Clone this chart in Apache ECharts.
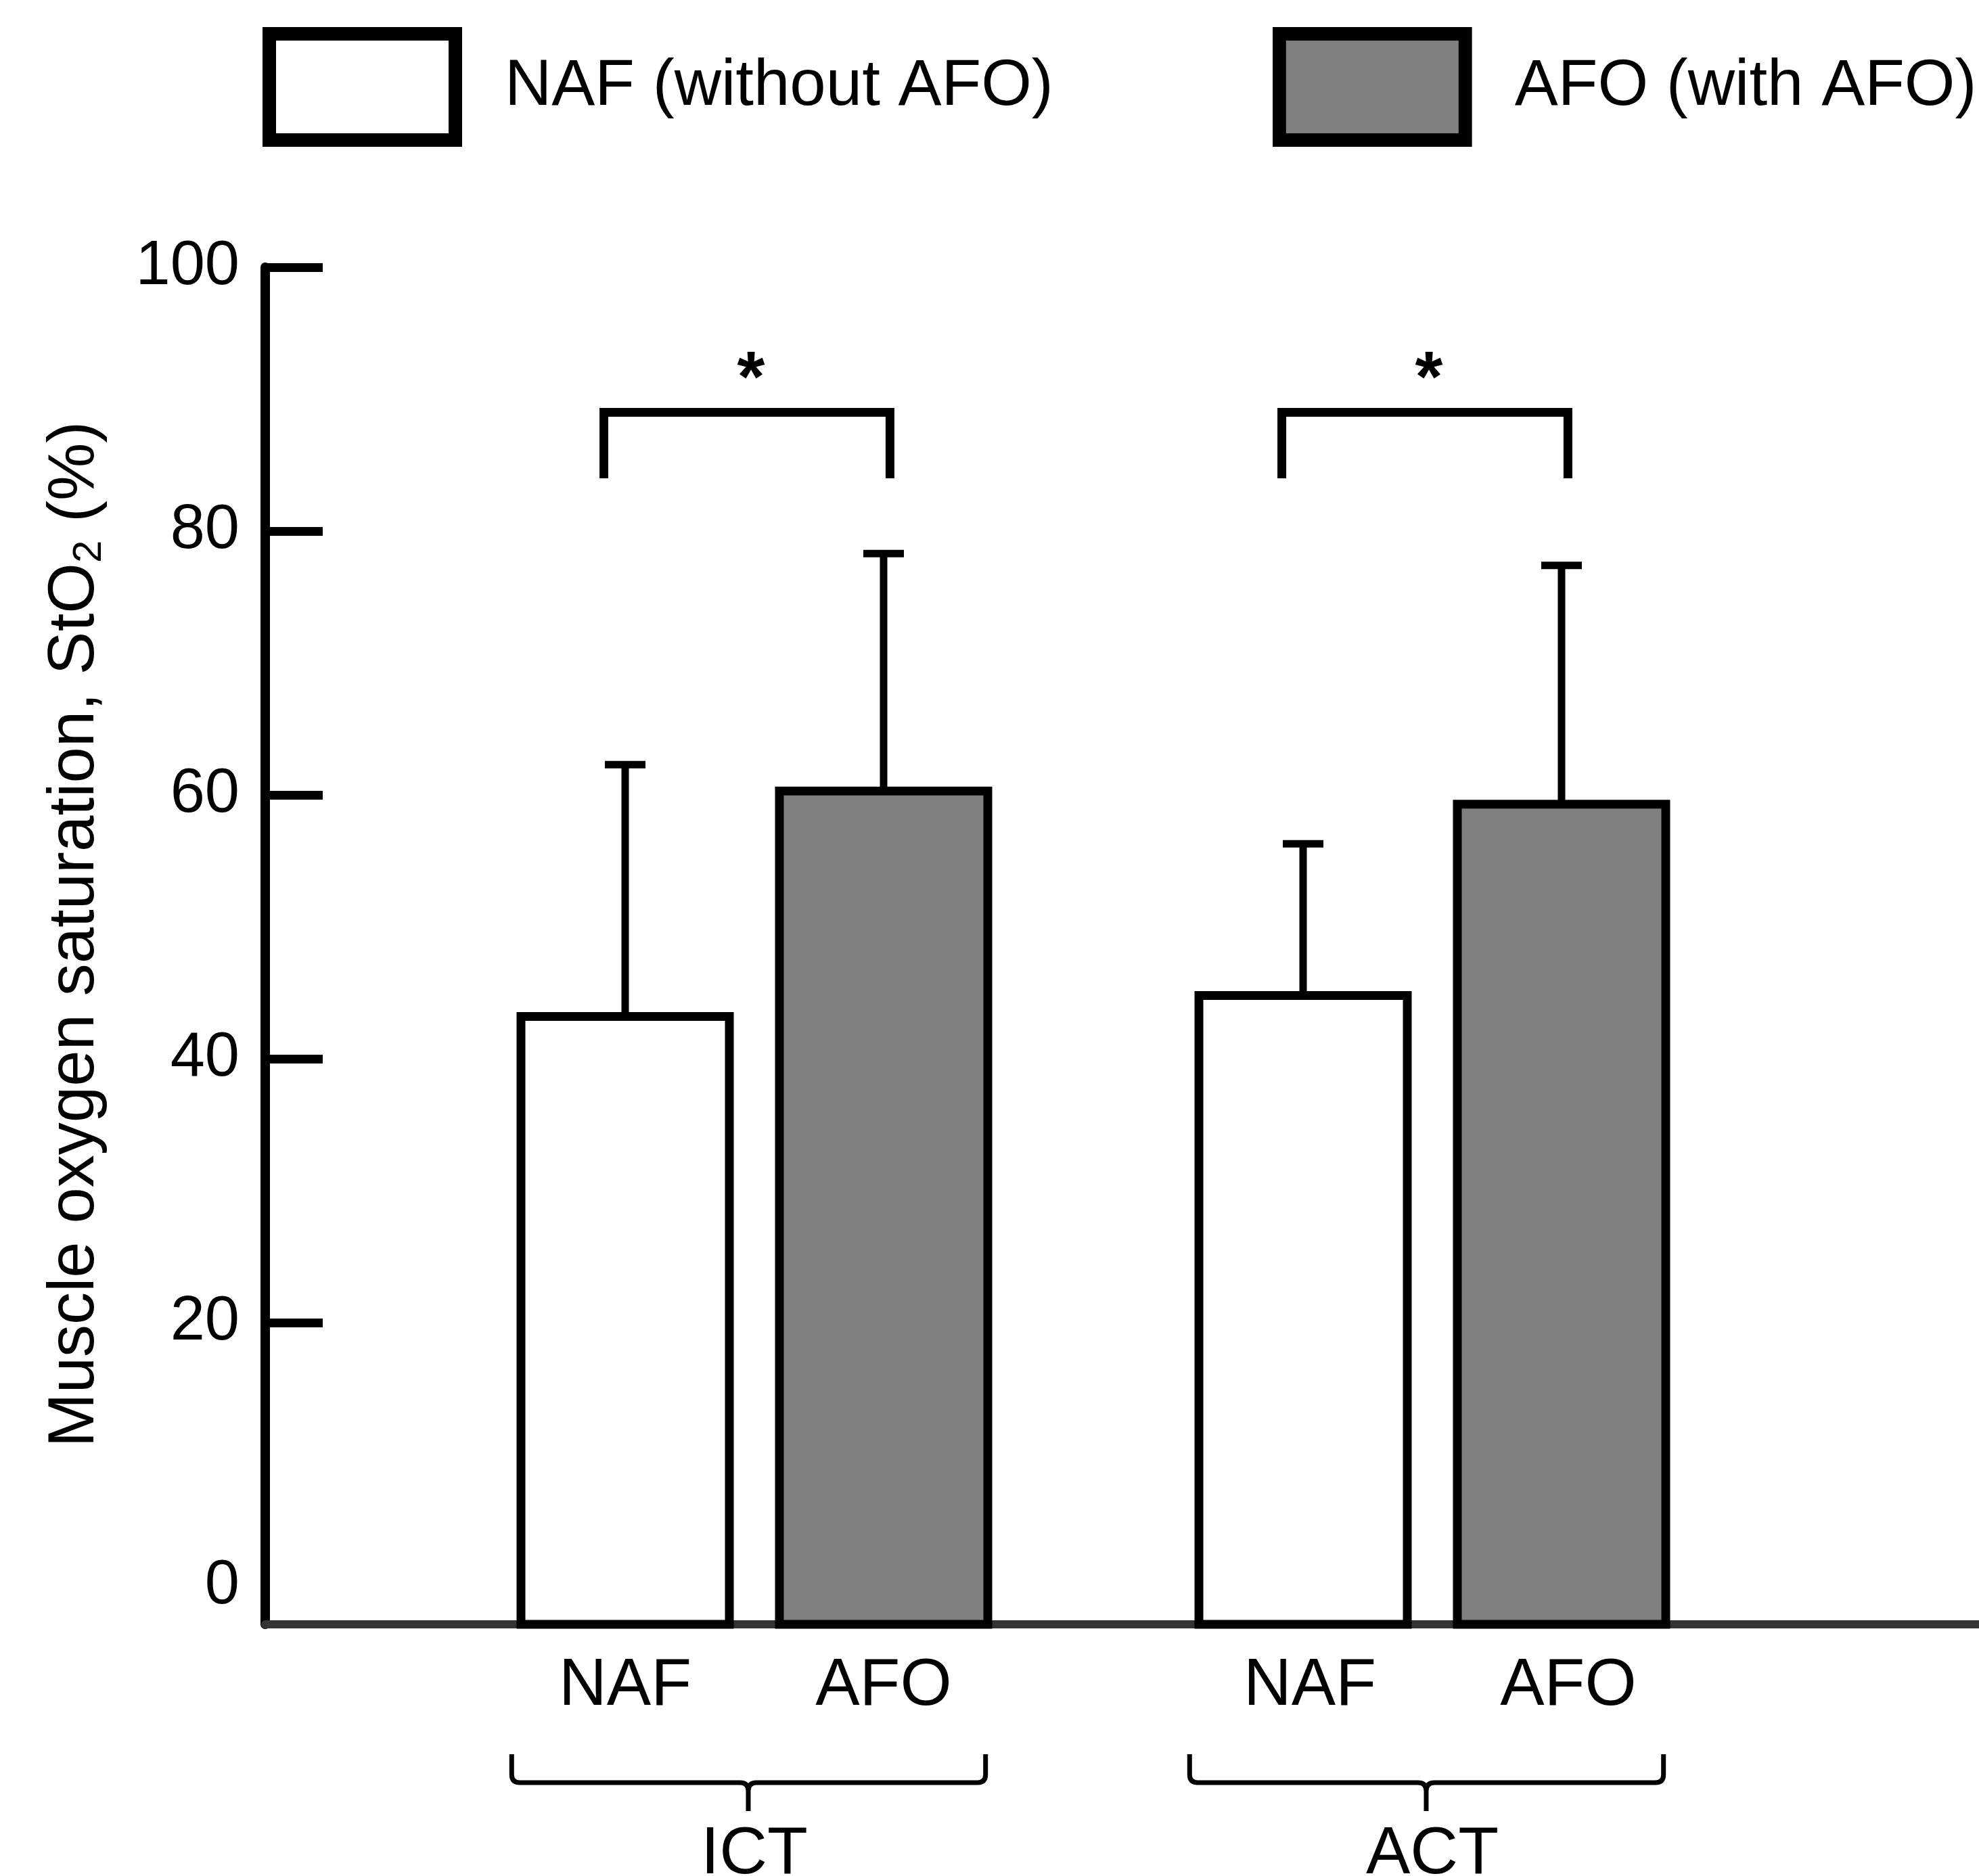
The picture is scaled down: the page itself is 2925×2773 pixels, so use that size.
<!DOCTYPE html>
<html>
<head>
<meta charset="utf-8">
<title>Muscle oxygen saturation</title>
<script src="https://cdn.jsdelivr.net/npm/echarts@6/dist/echarts.min.js"></script>
<style>
  html, body { margin: 0; padding: 0; background: #fff; }
  #main { width: 2925px; height: 2773px; }
</style>
</head>
<body>
<div id="main"></div>
<script>
// values (mean and SD, %)
var groups = ['ICT', 'ACT'];
var conditions = ['NAF', 'AFO'];
var conditionNames = ['NAF (without AFO)', 'AFO (with AFO)'];
var nafMean = [43.2, 44.8];
var nafSD = [19.1, 11.5];
var afoMean = [60.3, 59.3];
var afoSD = [18.0, 18.1];
var yTicks = [0, 20, 40, 60, 80, 100];
var significance = ['*', '*'];

var FONT = 'Liberation Sans, Arial, Helvetica, sans-serif';
var yMin = -2.87;   // axis line sits a little below zero, like the original
var fills = ['#ffffff', '#808080'];

// thick framed box for the legend (the legend's own border is capped, so use an svg icon)
function boxIcon(fill) {
    var svg = "<svg xmlns='http://www.w3.org/2000/svg' width='295' height='177'>" +
        "<rect x='10' y='10' width='275' height='157' fill='" + fill + "' stroke='#000' stroke-width='20'/></svg>";
    return 'image://data:image/svg+xml;charset=utf-8,' + encodeURIComponent(svg);
}

var myChart = echarts.init(document.getElementById('main'), null, { renderer: 'canvas' });

function barItem(k) {
    return function (params, api) {
        var g = api.value(0), mean = api.value(1), sd = api.value(2);
        var band = api.size([1, 0])[0];
        var cx = api.coord([g, 0])[0] + (k === 0 ? -1 : 1) * band * 0.1906;
        var w = band * 0.3074;
        var yTop = api.coord([g, mean])[1];
        var yBase = api.coord([g, yMin])[1];
        var yErr = api.coord([g, mean + sd])[1];
        return {
            type: 'group',
            children: [
                { type: 'line', shape: { x1: cx, y1: yTop, x2: cx, y2: yErr },
                  style: { stroke: '#000', lineWidth: 11 } },
                { type: 'line', shape: { x1: cx - 30, y1: yErr, x2: cx + 30, y2: yErr },
                  style: { stroke: '#000', lineWidth: 11 } },
                { type: 'rect', shape: { x: cx - w / 2, y: yTop, width: w, height: yBase - yTop },
                  style: { fill: fills[k], stroke: '#000', lineWidth: 13 } },
                { type: 'text', x: cx + g * 10, y: yBase + 92,
                  style: { text: conditions[k], fontSize: 98, fontFamily: FONT, fill: '#000',
                           align: 'center', verticalAlign: 'middle' } }
            ]
        };
    };
}

function annotationItem(params, api) {
    var g = api.value(0);
    var band = api.size([1, 0])[0];
    var cx = api.coord([g, 0])[0];
    var yBase = api.coord([g, yMin])[1];
    var yHi = api.coord([g, 89])[1];
    var yLo = api.coord([g, 84])[1];
    var xl = cx - band * 0.222, xr = cx + band * 0.2;
    // curly brace under the pair of bars
    var bl = cx - band * 0.358, br = cx + band * 0.341, bs = cx - band * 0.009;
    var yt = yBase + 192, yh = yBase + 234, ye = yBase + 276, r = 12;
    var brace = 'M' + bl + ',' + yt + ' L' + bl + ',' + (yh - r) +
        ' Q' + bl + ',' + yh + ' ' + (bl + r) + ',' + yh +
        ' L' + (bs - r) + ',' + yh +
        ' Q' + bs + ',' + yh + ' ' + bs + ',' + (yh + r) +
        ' L' + bs + ',' + ye +
        ' M' + bs + ',' + (yh + r) +
        ' Q' + bs + ',' + yh + ' ' + (bs + r) + ',' + yh +
        ' L' + (br - r) + ',' + yh +
        ' Q' + br + ',' + yh + ' ' + br + ',' + (yh - r) +
        ' L' + br + ',' + yt;
    return {
        type: 'group',
        children: [
            { type: 'polyline', shape: { points: [[xl, yLo], [xl, yHi], [xr, yHi], [xr, yLo]] },
              style: { stroke: '#000', fill: null, lineWidth: 13 } },
            { type: 'text', x: cx - 5, y: yHi - 45,
              style: { text: significance[g], fontSize: 105, fontWeight: 'bold', fontFamily: FONT,
                       fill: '#000', align: 'center', verticalAlign: 'middle' } },
            { type: 'path', shape: { pathData: brace },
              style: { stroke: '#000', fill: null, lineWidth: 7 } }
        ]
    };
}

var nafData = groups.map(function (g, i) { return [i, nafMean[i], nafSD[i]]; });
var afoData = groups.map(function (g, i) { return [i, afoMean[i], afoSD[i]]; });

var option = {
    backgroundColor: '#fff',
    animation: false,
    textStyle: { fontFamily: FONT, color: '#000' },
    legend: {
        left: 388,
        top: 40,
        width: 2600,
        padding: 0,
        itemWidth: 295,
        itemHeight: 177,
        itemGap: 324,
        selectedMode: false,
        textStyle: { fontSize: 96, color: '#000', padding: [0, 0, 0, 58] },
        data: [
            { name: conditionNames[0], icon: boxIcon(fills[0]) },
            { name: conditionNames[1], icon: boxIcon(fills[1]) }
        ]
    },
    grid: [
        { left: 392, right: 0, top: 395, bottom: 372, outerBoundsMode: 'none' },
        { left: 614, width: 2004, top: 395, bottom: 372, outerBoundsMode: 'none' }
    ],
    xAxis: [
        {
            gridIndex: 0, type: 'value', min: 0, max: 1,
            axisLine: { show: true, onZero: false, lineStyle: { color: '#333', width: 12 } },
            axisTick: { show: false }, axisLabel: { show: false }, splitLine: { show: false }
        },
        {
            gridIndex: 1, type: 'category', data: groups,
            axisLine: { show: false }, axisTick: { show: false }, splitLine: { show: false },
            axisLabel: { fontSize: 98, color: '#000', margin: 292 }
        }
    ],
    yAxis: [
        {
            gridIndex: 0, type: 'value', min: yMin, max: 100,
            axisLine: { show: true, onZero: false, lineStyle: { color: '#000', width: 14 } },
            axisTick: { show: true, inside: true, length: 85, customValues: yTicks.slice(1),
                        lineStyle: { color: '#000', width: 13 } },
            axisLabel: { fontSize: 92, color: '#000', margin: 38, customValues: yTicks },
            splitLine: { show: false },
            name: 'Muscle oxygen saturation, StO{sub|2} (%)',
            nameLocation: 'middle',
            nameRotate: 90,
            nameGap: 230,
            nameTextStyle: {
                fontSize: 96, color: '#000', padding: [0, 0, 0, 34],
                rich: { sub: { fontSize: 60, color: '#000', verticalAlign: 'bottom', padding: [40, 0, 0, 0] } }
            }
        },
        { gridIndex: 1, type: 'value', min: yMin, max: 100, show: false }
    ],
    series: [
        {
            name: conditionNames[0], type: 'custom', xAxisIndex: 1, yAxisIndex: 1,
            itemStyle: { color: fills[0], borderColor: '#000' },
            encode: { x: 0, y: 1 }, data: nafData, renderItem: barItem(0), z: 3
        },
        {
            name: conditionNames[1], type: 'custom', xAxisIndex: 1, yAxisIndex: 1,
            itemStyle: { color: fills[1], borderColor: '#000' },
            encode: { x: 0, y: 1 }, data: afoData, renderItem: barItem(1), z: 3
        },
        {
            name: 'significance', type: 'custom', xAxisIndex: 1, yAxisIndex: 1,
            encode: { x: 0 }, data: groups.map(function (g, i) { return [i]; }),
            renderItem: annotationItem, z: 4
        }
    ]
};
myChart.setOption(option);
</script>
</body>
</html>
